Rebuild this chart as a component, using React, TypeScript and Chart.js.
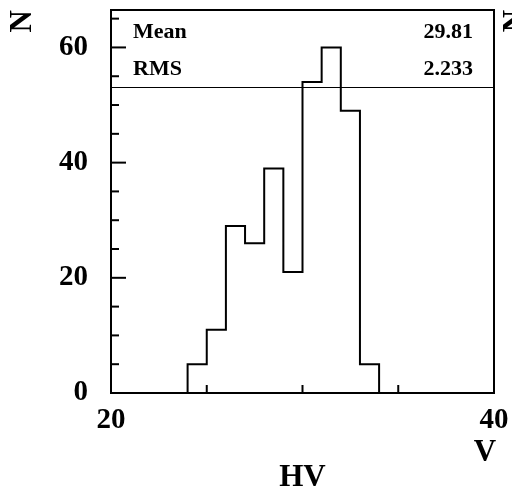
import React, { useEffect, useRef } from "react";
import { Chart, registerables } from "chart.js";
Chart.register(...registerables);

// ---- data ----
const binLow = 24;
const binWidth = 1;
const counts = [5, 11, 29, 26, 39, 21, 54, 60, 49, 5];
const xTickLabels = [20, 40];
const xTickMarks = [25, 30, 35];
const yTickLabels = [0, 20, 40, 60];
const yMinorTicks = [5, 10, 15, 25, 30, 35, 45, 50, 55, 65];
const statsNames = ["Mean", "RMS"];
const statsValues = ["29.81", "2.233"];
const xTitle = "HV";
const xUnit = "V";
const yTitle = "N";
const X_MIN = 20;
const X_MAX = 40;
const Y_MIN = 0;
const Y_MAX = 66.5;

const FONT = '"Liberation Serif", "Times New Roman", serif';

const zeroPad = (s: any) => {
  s.paddingTop = 0;
  s.paddingBottom = 0;
  s.paddingLeft = 0;
  s.paddingRight = 0;
};

const decorPlugin = {
  id: "decor",
  afterDraw(chart: any) {
    const { ctx, chartArea, scales } = chart;
    const { left, right, top, bottom } = chartArea;
    const xs = scales.x;
    const ys = scales.y;
    const line = (x1: number, y1: number, x2: number, y2: number) => {
      ctx.beginPath();
      ctx.moveTo(x1, y1);
      ctx.lineTo(x2, y2);
      ctx.stroke();
    };
    ctx.save();
    ctx.strokeStyle = "#000";
    ctx.lineWidth = 2;
    ctx.strokeRect(left, top, right - left, bottom - top);
    yTickLabels.forEach((v) => {
      const py = ys.getPixelForValue(v);
      line(left, py, left + 15, py);
    });
    yMinorTicks.forEach((v) => {
      const py = ys.getPixelForValue(v);
      line(left, py, left + 8, py);
    });
    xTickMarks.forEach((v) => {
      const px = xs.getPixelForValue(v);
      line(px, bottom, px, bottom - 8);
    });
    // stats box
    ctx.lineWidth = 1;
    line(left, top + 77.5, right, top + 77.5);
    ctx.fillStyle = "#000";
    ctx.font = `bold 22px ${FONT}`;
    ctx.textBaseline = "middle";
    statsNames.forEach((n, i) => {
      const py = top + 22 + i * 37;
      ctx.textAlign = "left";
      ctx.fillText(n, left + 22, py);
      ctx.textAlign = "right";
      ctx.fillText(statsValues[i], right - 21, py);
    });
    // unit label
    ctx.font = `bold 31px ${FONT}`;
    ctx.textAlign = "center";
    ctx.fillText(xUnit, 485, 453);
    // cropped neighbour title at right edge
    ctx.translate(516, 21);
    ctx.rotate(-Math.PI / 2);
    ctx.fillText(yTitle, 0, 0);
    ctx.restore();
  },
};

export default function App() {
  const ref = useRef<HTMLCanvasElement>(null);
  useEffect(() => {
    const pts: { x: number; y: number }[] = [{ x: binLow, y: 0 }];
    counts.forEach((c, i) => pts.push({ x: binLow + i * binWidth, y: c }));
    pts.push({ x: binLow + counts.length * binWidth, y: 0 });
    Chart.defaults.color = "#000";
    const chart = new Chart(ref.current!, {
      type: "line",
      data: {
        datasets: [
          {
            data: pts,
            stepped: "before",
            borderColor: "#000",
            borderWidth: 2,
            pointRadius: 0,
            fill: false,
          },
        ],
      },
      options: {
        animation: false,
        responsive: false,
        devicePixelRatio: 1,
        layout: { padding: { top: 10, right: 18, left: 0, bottom: 0 } },
        plugins: { legend: { display: false }, tooltip: { enabled: false } },
        scales: {
          x: {
            type: "linear",
            min: X_MIN,
            max: X_MAX,
            grid: { display: false, drawTicks: false },
            border: { display: false },
            afterBuildTicks: (s: any) => {
              s.ticks = xTickLabels.map((v) => ({ value: v }));
            },
            afterFit: (s: any) => {
              s.height = 95;
              zeroPad(s);
            },
            ticks: {
              autoSkip: false,
              maxRotation: 0,
              padding: 10,
              color: "#000",
              font: { family: FONT, weight: "bold", size: 29 },
            },
            title: {
              display: true,
              text: xTitle,
              color: "#000",
              font: { family: FONT, weight: "bold", size: 31, lineHeight: 1 },
              padding: { top: 0, bottom: -5 },
            },
          },
          y: {
            type: "linear",
            min: Y_MIN,
            max: Y_MAX,
            grid: { display: false, drawTicks: false },
            border: { display: false },
            afterBuildTicks: (s: any) => {
              s.ticks = yTickLabels.map((v) => ({ value: v }));
            },
            afterFit: (s: any) => {
              s.width = 111;
              zeroPad(s);
            },
            ticks: {
              padding: 23,
              color: "#000",
              font: { family: FONT, weight: "bold", size: 29 },
            },
            title: {
              display: true,
              text: yTitle,
              align: "end",
              color: "#000",
              font: { family: FONT, weight: "bold", size: 31, lineHeight: 1.2 },
              padding: { top: 4, bottom: 0 },
            },
          },
        },
      },
      plugins: [decorPlugin],
    } as any);
    return () => chart.destroy();
  }, []);
  return (
    <div style={{ position: "absolute", left: 0, top: 0, width: 512, height: 488, background: "#fff" }}>
      <canvas ref={ref} width={512} height={488} style={{ display: "block" }} />
    </div>
  );
}
